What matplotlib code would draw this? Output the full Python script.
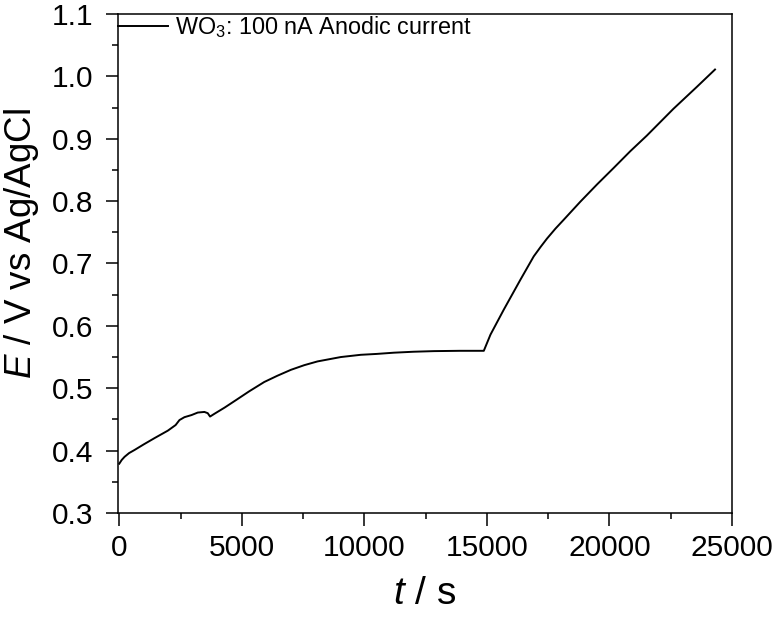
import matplotlib
matplotlib.use("Agg")
import matplotlib.pyplot as plt
from matplotlib.ticker import MultipleLocator

plt.rcParams['font.family'] = ['Liberation Sans', 'DejaVu Sans']
plt.rcParams['mathtext.fontset'] = 'custom'
plt.rcParams['mathtext.rm'] = 'Liberation Sans'
plt.rcParams['mathtext.it'] = 'Liberation Sans:italic'

# chronopotentiometry trace, time in s and potential in V
t_s = [0, 100, 216, 400, 623, 1000, 1438, 1982, 2300, 2457, 2660, 2950,
       3203, 3474, 3610, 3705, 3882, 4300, 4764, 5300, 5916, 6450, 7003,
       7550, 8090, 9039, 9853, 10500, 11210, 12000, 12839, 13900, 14874,
       15147, 15689, 16368, 16911, 17200, 17454, 17800, 18132, 18811,
       19500, 20168, 20850, 21525, 22611, 23562, 24308]
e_v = [0.379, 0.385, 0.390, 0.396, 0.401, 0.410, 0.420, 0.432, 0.441,
       0.449, 0.4536, 0.457, 0.461, 0.462, 0.460, 0.4546, 0.459, 0.469,
       0.481, 0.495, 0.510, 0.520, 0.5295, 0.537, 0.543, 0.550, 0.5536,
       0.555, 0.557, 0.5585, 0.5595, 0.560, 0.560, 0.586, 0.626, 0.674,
       0.7114, 0.727, 0.740, 0.756, 0.770, 0.799, 0.827, 0.853, 0.880,
       0.905, 0.948, 0.983, 1.011]
label = "WO$_3$: 100 nA Anodic current"

fig = plt.figure(figsize=(7.74, 6.17), dpi=100)
ax = fig.add_axes([0.1525, 0.1686, 0.7932, 0.8087])

ax.plot(t_s, e_v, color='black', lw=1.4, label=label)

ax.set_xlim(-50, 25000)
ax.set_ylim(0.3, 1.1)
ax.xaxis.set_major_locator(MultipleLocator(5000))
ax.xaxis.set_minor_locator(MultipleLocator(2500))
ax.yaxis.set_major_locator(MultipleLocator(0.1))
ax.yaxis.set_minor_locator(MultipleLocator(0.05))
ax.yaxis.set_major_formatter(plt.FormatStrFormatter('%.1f'))

ax.tick_params(which='both', direction='out', width=1.1, labelsize=21.5,
               top=False, right=False)
ax.tick_params(which='major', length=9, pad=6)
ax.tick_params(axis='y', which='major', pad=9)
ax.tick_params(which='minor', length=4.5)
for s in ax.spines.values():
    s.set_linewidth(1.1)

ax.set_xlabel("$t$ / s", fontsize=28, labelpad=10)
ax.set_ylabel("$E$ / V vs Ag/AgCl", fontsize=26.5)
ax.yaxis.set_label_coords(-0.125, 0.54)

ax.legend(loc='upper left', bbox_to_anchor=(-0.008, 1.01), frameon=False,
          fontsize=16.8, handlelength=2.15, handletextpad=0.3,
          borderaxespad=0, borderpad=0.2)

fig.savefig("out.png", dpi=100)
